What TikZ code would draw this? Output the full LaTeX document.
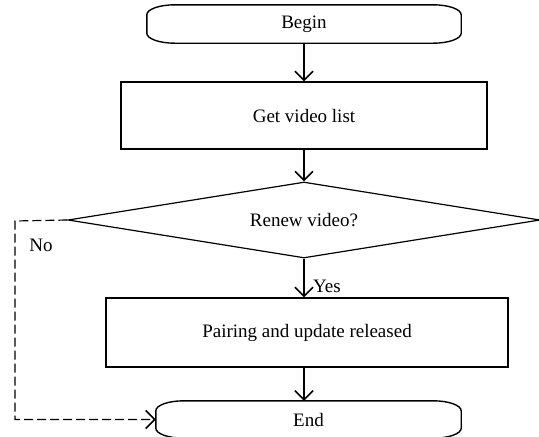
\documentclass[tikz,border=0pt]{standalone}
\usepackage{fontspec}
\setmainfont{Liberation Serif}
\usetikzlibrary{arrows.meta}
\usetikzlibrary{shapes.geometric}

\tikzset{
  box/.style={draw, line width=1.4pt, inner sep=0pt},
  term/.style={inner sep=0pt},
  cond/.style={draw, diamond, aspect=6.2, line width=1.2pt, inner sep=0pt},
  flow/.style={line width=1.4pt, -{Straight Barb[length=9pt, width=18pt, line width=1.6pt]}},
}
% outline of a start/stop node, flat top and bottom, curved ends
\newcommand{\termline}[1]{%
  \draw[line width=1.4pt] ([xshift=28pt]#1.north west) -- ([xshift=-28pt]#1.north east)
    arc[x radius=28pt, y radius=10pt, start angle=90, end angle=0]
    -- ([yshift=10pt]#1.south east)
    arc[x radius=28pt, y radius=10pt, start angle=0, end angle=-90]
    -- ([xshift=28pt]#1.south west)
    arc[x radius=28pt, y radius=10pt, start angle=270, end angle=180]
    -- ([yshift=-10pt]#1.north west)
    arc[x radius=28pt, y radius=10pt, start angle=180, end angle=90] -- cycle;}

\begin{document}
\begin{tikzpicture}[x=1pt, y=1pt, font=\fontsize{19}{22}\selectfont]
\useasboundingbox (0,0) rectangle (539,-437);

\node[term, minimum width=314pt, minimum height=38pt] (begin) at (304,-24) {Begin};
\node[box, minimum width=366pt, minimum height=67pt] (get) at (304,-115.5) {Get video list};
\node[cond, minimum width=472pt, minimum height=76pt] (renew) at (304,-220) {Renew video?};
\node[box, minimum width=402pt, minimum height=69pt] (pair) at (307,-332.5) {Pairing and update released};
\node[term, minimum width=305pt, minimum height=37pt] (end) at (308.5,-419.5) {End};
\termline{begin}
\termline{end}

\draw[flow] (begin.south -| get.north) -- (get.north);
\draw[flow] (get.south) -- (renew.north);
\draw[flow] (renew.south) -- (renew.south |- pair.north) node[right=5pt, pos=0.72] (yes) {Yes};
\draw[flow] (renew.south |- pair.south) -- (renew.south |- end.north);

\coordinate (nobend) at (15,-221);
\draw[flow, line width=1.2pt, dash pattern=on 9pt off 4pt] (renew.west) -- (nobend) |- (end.west);
\node (no) at (41,-245) {No};
\end{tikzpicture}
\end{document}
